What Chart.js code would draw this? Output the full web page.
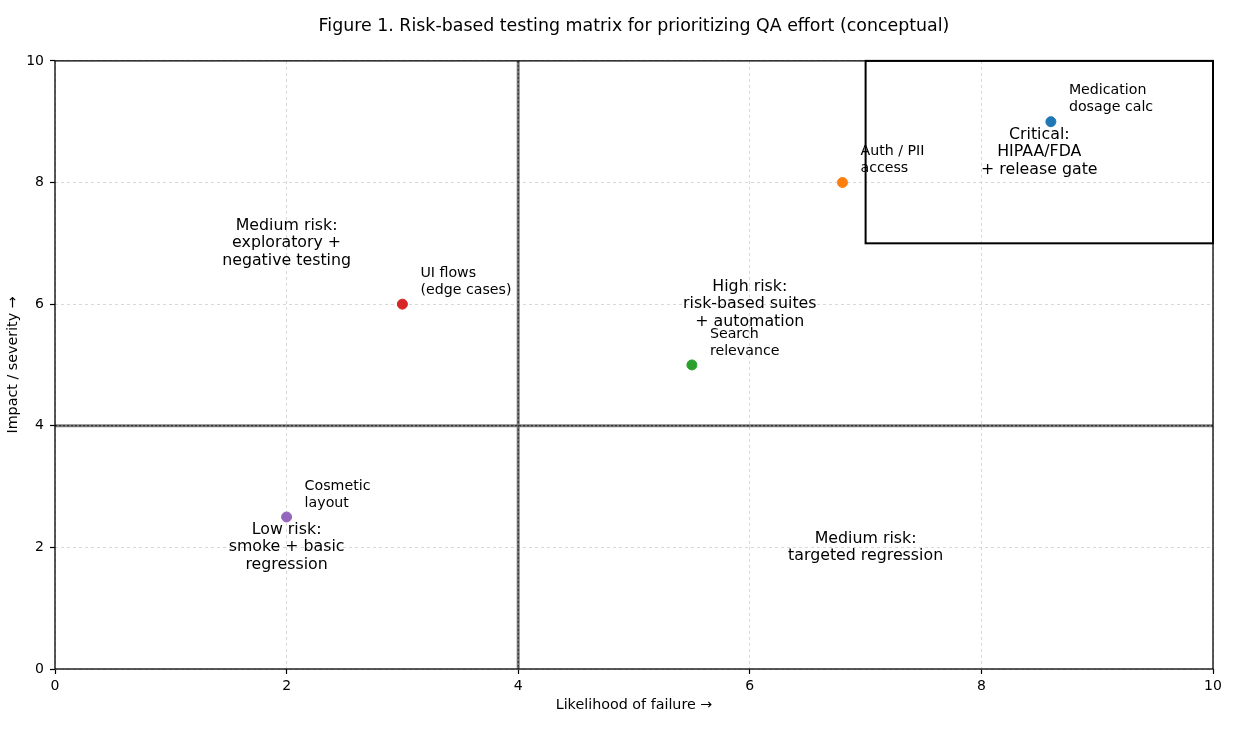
<!DOCTYPE html>
<html>
<head>
<meta charset="utf-8">
<script src="https://cdn.jsdelivr.net/npm/chart.js@4/dist/chart.umd.min.js"></script>
<style>
  html, body { margin: 0; padding: 0; background: #fff; }
  #wrap { width: 1242px; height: 746px; }
</style>
</head>
<body>
<div id="wrap"><canvas id="myChart" width="1242" height="746"></canvas></div>
<script>
// risk items
const itemNames = [
  ['Medication', 'dosage calc'],
  ['Auth / PII', 'access'],
  ['Search', 'relevance'],
  ['UI flows', '(edge cases)'],
  ['Cosmetic', 'layout']
];
const likelihood = [8.6, 6.8, 5.5, 3, 2];
const impact = [9, 8, 5, 6, 2.5];
const itemColors = ['#1f77b4', '#ff7f0e', '#2ca02c', '#d62728', '#9467bd'];

// quadrant notes (x, y = centre of text block)
const zoneText = [
  ['Medium risk:', 'exploratory +', 'negative testing'],
  ['High risk:', 'risk-based suites', '+ automation'],
  ['Low risk:', 'smoke + basic', 'regression'],
  ['Medium risk:', 'targeted regression'],
  ['Critical:', 'HIPAA/FDA', '+ release gate']
];
const zoneX = [2, 6, 2, 7, 8.5];
const zoneY = [7, 6, 2, 2, 8.5];

const splitAt = 4;
const criticalFrom = 7;
const tickValues = [0, 2, 4, 6, 8, 10];

const FONT = "'DejaVu Sans', sans-serif";

const matrixPlugin = {
  id: 'matrix',
  beforeDatasetsDraw(chart) {
    const { ctx, chartArea: a, scales: { x, y } } = chart;
    ctx.save();
    // quadrant split lines
    const sx = x.getPixelForValue(splitAt);
    const sy = y.getPixelForValue(splitAt);
    ctx.lineWidth = 3;
    ctx.strokeStyle = 'rgba(0,0,0,0.5)';
    ctx.beginPath();
    ctx.moveTo(sx, a.top); ctx.lineTo(sx, a.bottom);
    ctx.moveTo(a.left, sy); ctx.lineTo(a.right, sy);
    ctx.stroke();
    ctx.lineWidth = 1;
    ctx.strokeStyle = '#222';
    ctx.setLineDash([2, 2]);
    ctx.beginPath();
    ctx.moveTo(sx, a.top); ctx.lineTo(sx, a.bottom);
    ctx.moveTo(a.left, sy); ctx.lineTo(a.right, sy);
    ctx.stroke();
    ctx.setLineDash([]);
    // critical box
    const cx = x.getPixelForValue(criticalFrom);
    const cy = y.getPixelForValue(criticalFrom);
    ctx.lineWidth = 2;
    ctx.strokeStyle = '#000';
    ctx.strokeRect(cx, a.top, x.getPixelForValue(10) - cx, cy - a.top);
    // frame
    ctx.lineWidth = 1.3;
    ctx.strokeRect(a.left, a.top, a.right - a.left, a.bottom - a.top);
    ctx.restore();
  },
  afterDatasetsDraw(chart) {
    const { ctx, scales: { x, y } } = chart;
    ctx.save();
    ctx.fillStyle = '#000';
    ctx.textBaseline = 'middle';
    // zone notes
    ctx.font = '15.8px ' + FONT;
    ctx.textAlign = 'center';
    zoneText.forEach((lines, i) => {
      const px = x.getPixelForValue(zoneX[i]);
      const py = y.getPixelForValue(zoneY[i]);
      const lh = 17.5;
      const top = py - (lines.length - 1) * lh / 2;
      lines.forEach((t, k) => ctx.fillText(t, px, top + k * lh));
    });
    // item labels
    ctx.font = '14.2px ' + FONT;
    ctx.textAlign = 'left';
    itemNames.forEach((lines, i) => {
      const px = x.getPixelForValue(likelihood[i]) + 18;
      const py = y.getPixelForValue(impact[i]);
      ctx.fillText(lines[0], px, py - 31);
      ctx.fillText(lines[1], px, py - 14);
    });
    ctx.restore();
  }
};

const axisCommon = {
  min: 0,
  max: 10,
  border: { display: false, dash: [3, 3] },
  grid: {
    color: '#cfcfcf',
    lineWidth: 0.8,
    tickColor: '#000',
    tickWidth: 1.2,
    tickLength: 5,
    tickBorderDash: []
  }
};

const options = {
  type: 'scatter',
  data: {
    datasets: [{
      data: likelihood.map((v, i) => ({ x: v, y: impact[i] })),
      pointBackgroundColor: itemColors,
      pointBorderColor: itemColors,
      pointRadius: 5,
      pointHoverRadius: 5
    }]
  },
  options: {
    responsive: false,
    animation: false,
    layout: { padding: { left: 0, right: 29, top: 0, bottom: 0 } },
    plugins: {
      legend: { display: false },
      tooltip: { enabled: false },
      title: {
        display: true,
        fullSize: false,
        text: 'Figure 1. Risk-based testing matrix for prioritizing QA effort (conceptual)',
        color: '#000',
        font: { family: FONT, size: 17.4, weight: 'normal', lineHeight: 1.2 },
        padding: { top: 16, bottom: 24 }
      }
    },
    scales: {
      x: {
        ...axisCommon,
        afterBuildTicks(scale) { scale.ticks = tickValues.map(v => ({ value: v })); },
        afterFit(scale) { scale.height = 77; },
        ticks: { color: '#000', padding: 4, font: { family: FONT, size: 14 } },
        title: {
          display: true,
          text: 'Likelihood of failure →',
          color: '#000',
          font: { family: FONT, size: 14.3 },
          padding: { top: 0, bottom: 32 }
        }
      },
      y: {
        ...axisCommon,
        afterBuildTicks(scale) { scale.ticks = tickValues.map(v => ({ value: v })); },
        afterFit(scale) { scale.width = 55; },
        ticks: { color: '#000', padding: 6, font: { family: FONT, size: 14 } },
        title: {
          display: true,
          text: 'Impact / severity →',
          color: '#000',
          font: { family: FONT, size: 14.3 },
          padding: { top: 5, bottom: 0 }
        }
      }
    }
  },
  plugins: [matrixPlugin]
};

const ctx = document.getElementById('myChart').getContext('2d');
const myChart = new Chart(ctx, options);
</script>
</body>
</html>
